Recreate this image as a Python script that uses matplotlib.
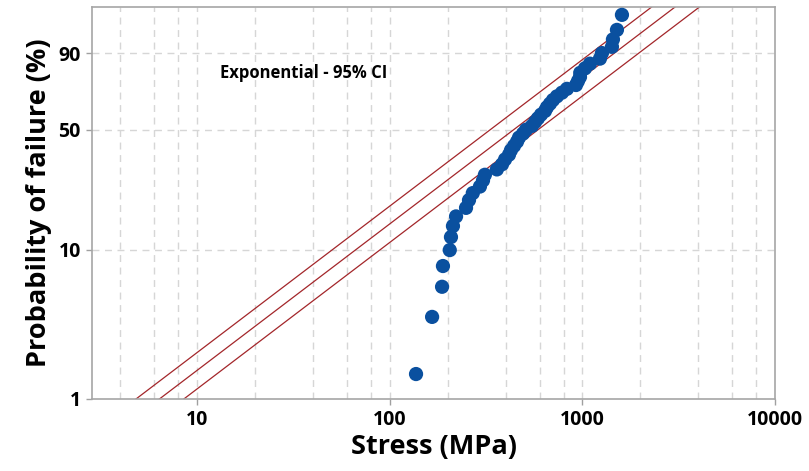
import numpy as np
import matplotlib
matplotlib.use("Agg")
import matplotlib.pyplot as plt
from matplotlib.ticker import FixedLocator, NullLocator, NullFormatter

plt.rcParams['font.family'] = ['Open Sans', 'DejaVu Sans']

# Failure stresses (MPa), sorted
stress = [137, 166, 187, 189, 205, 208, 213, 221, 249, 258,
          270, 294, 305, 312, 360, 383, 397, 416, 426, 442,
          458, 469, 492, 510, 548, 568, 588, 610, 640, 655,
          679, 704, 738, 784, 832, 927, 949, 972, 975, 1032,
          1095, 1234, 1264, 1424, 1441, 1512, 1605]

# Exponential scale parameter and its 95% confidence bounds
theta_fit = 635.0
theta_lo = 480.0
theta_hi = 850.0

y_ticks = [1, 10, 50, 90]
x_ticks = [10, 100, 1000, 10000]

# median ranks
n = len(stress)
ranks = np.arange(1, n + 1)
prob = 100 * (ranks - 0.3) / (n + 0.4)


def fwd(p):
    p = np.clip(np.asarray(p, dtype=float) / 100.0, 1e-9, 1 - 1e-12)
    return np.log(-np.log(1 - p))


def inv(w):
    return 100 * (1 - np.exp(-np.exp(np.asarray(w, dtype=float))))


fig = plt.figure(figsize=(8.09, 4.71), dpi=100)
ax = fig.add_axes([0.1137, 0.1529, 0.8443, 0.8322])
ax.set_xscale('log')
ax.set_yscale('function', functions=(fwd, inv))
ax.set_xlim(2.85, 10000)
ax.set_ylim(1, 99.15)

# grid
grid_x = [m * 10 ** k for k in range(0, 4) for m in (2, 4, 6, 8, 10)]
for gx in grid_x:
    if 2.85 < gx < 10000:
        ax.axvline(gx, color='#d6d6d6', lw=1.0, ls=(0, (5, 4)), zorder=0)
for gy in y_ticks[1:]:
    ax.axhline(gy, color='#d6d6d6', lw=1.0, ls=(0, (5, 4)), zorder=0)

# fitted line and confidence bounds
xs = np.logspace(np.log10(2.85), 4, 400)
for th in (theta_lo, theta_fit, theta_hi):
    ax.plot(xs, 100 * (1 - np.exp(-xs / th)), color='#a3262a', lw=0.9, zorder=2)

ax.scatter(stress, prob, s=105, color='#0a509f', edgecolors='none', zorder=3)

ax.xaxis.set_major_locator(FixedLocator(x_ticks))
ax.xaxis.set_minor_locator(NullLocator())
ax.set_xticklabels([str(t) for t in x_ticks])
ax.yaxis.set_major_locator(FixedLocator(y_ticks))
ax.yaxis.set_minor_locator(NullLocator())
ax.yaxis.set_minor_formatter(NullFormatter())
ax.set_yticklabels([str(t) for t in y_ticks])
ax.tick_params(axis='both', labelsize=14, length=4, color='#a0a0a0', width=1, pad=4)
for lab in ax.get_xticklabels() + ax.get_yticklabels():
    lab.set_fontweight('bold')

for sp in ax.spines.values():
    sp.set_color('#a6a6a6')
    sp.set_linewidth(1.2)

ax.set_xlabel('Stress (MPa)', fontsize=19.5, fontweight='bold', labelpad=3)
ax.set_ylabel('Probability of failure (%)', fontsize=19.5, fontweight='bold', labelpad=5)

ax.text(0.187, 0.832, 'Exponential - 95% CI', transform=ax.transAxes,
        fontsize=12, fontweight='bold', va='center', ha='left')

fig.savefig('out.png', dpi=100)
